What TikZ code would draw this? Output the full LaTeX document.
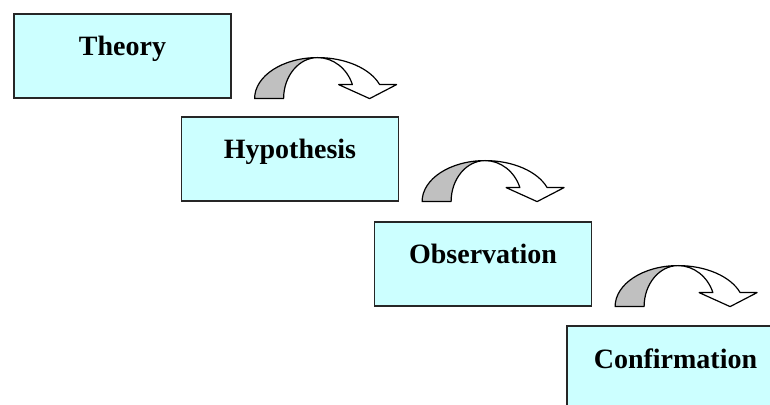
\documentclass[tikz,border=0pt]{standalone}
\usepackage{fontspec}
\setmainfont{Liberation Serif}
\definecolor{boxcyan}{RGB}{204,255,255}
\definecolor{bandgray}{RGB}{192,192,192}
\begin{document}
\begin{tikzpicture}[x=1pt, y=1pt,
  stage/.style={draw=black!85, line width=1.2pt, fill=boxcyan, minimum width=217pt,
    inner sep=0pt, text height=42pt, text depth=42pt, font=\fontsize{28}{30}\selectfont\bfseries},
  band/.style={draw=black, line width=1.2pt, line join=round}]
\useasboundingbox (0,0) rectangle (770,404);
\clip (0,0) rectangle (770,404);
% Etapas
\node[stage] (theory) at (122.5,348) {Theory};
\node[stage] (hypo) at (290,245) {Hypothesis};
\node[stage] (obs) at (483,140) {Observation};
\node[stage] (conf) at (675.5,36) {Confirmation};
% Setas curvas
\foreach \b in {theory,hypo,obs}{
  \begin{scope}[shift={(\b.south east)}]
    \draw[band, fill=white] (86,41) arc[start angle=90, end angle=20, x radius=66, y radius=41]
      -- (165,14) -- (138,0) -- (107,14) -- (120.8,14)
      arc[start angle=20, end angle=90, x radius=37, y radius=41] -- cycle;
    \draw[band, fill=bandgray] (23,0) arc[start angle=180, end angle=90, x radius=63, y radius=41]
      arc[start angle=90, end angle=180, x radius=34, y radius=41] -- cycle;
  \end{scope}
}
\end{tikzpicture}
\end{document}
